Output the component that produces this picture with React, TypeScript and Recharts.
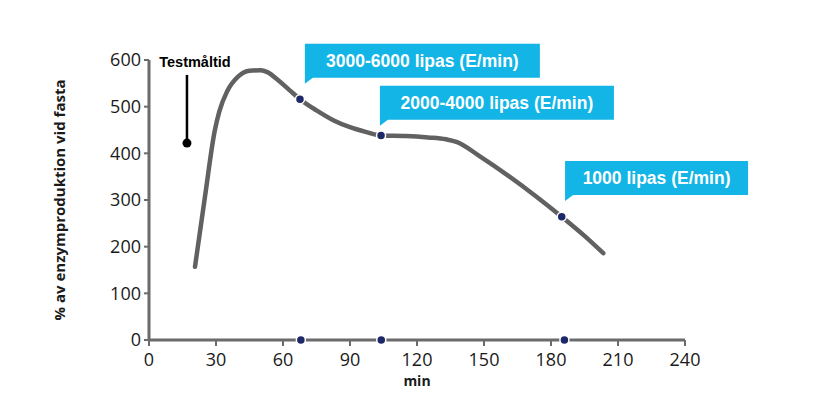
import React from 'react'
import {
  ComposedChart,
  Line,
  Scatter,
  XAxis,
  YAxis,
  ReferenceDot,
  ReferenceLine,
} from 'recharts'

// curve (minutes -> % of fasting enzyme production)
const curveT = [20.6, 25, 29.5, 31.5, 35, 40, 45, 50, 53, 58, 63, 67.6, 75, 82.5, 90, 97, 104, 115, 125, 133, 138, 148, 173.5, 184.8, 195, 203.4]
const curveV = [157, 305, 450, 490, 533, 565, 577, 578, 574, 556, 535, 516, 492, 471, 456, 446, 438, 437, 434, 430, 424, 394, 307, 264, 223, 186]

const markerT = [67.6, 103.9, 184.8]
const markerV = [516, 438, 264]
const axisMarkerT = [68, 104, 186]

const xTicks = [0, 30, 60, 90, 120, 150, 180, 210, 240]
const yTicks = [0, 100, 200, 300, 400, 500, 600]

const calloutText = ['3000-6000 lipas (E/min)', '2000-4000 lipas (E/min)', '1000 lipas (E/min)']
const calloutT = [69.8, 103.4, 186.3]
const calloutV = [549, 459, 298]
const calloutW = [235, 234, 183]

const mealT = 17
const mealLow = 422
const mealHigh = 568

const curve = curveT.map((t, i) => ({ t, v: curveV[i] }))
const markers = markerT.map((t, i) => ({ t, v: markerV[i] }))
const axisMarkers = axisMarkerT.map((t) => ({ t, v: 0 }))

const AXIS = '#6b6b6b'
const CYAN = '#12b5e5'
const NAVY = '#1c2868'

const Dot = (props: any) => (
  <circle cx={props.cx} cy={props.cy} r={4.5} fill={NAVY} stroke="#fff" strokeWidth={1.5} />
)

const callout = (text: string, w: number) => (props: any) => {
  const { cx, cy } = props
  const bottom = cy - 6
  const top = bottom - 34
  const pts = `${cx},${top} ${cx + w},${top} ${cx + w},${bottom} ${cx + 8},${bottom} ${cx},${cy}`
  return (
    <g>
      <polygon points={pts} fill={CYAN} />
      <text
        x={cx + w / 2}
        y={top + 23}
        textAnchor="middle"
        fill="#fff"
        fontFamily="'Liberation Sans', Arial, sans-serif"
        fontWeight="bold"
        fontSize={17.5}
      >
        {text}
      </text>
    </g>
  )
}

const mealLabel = (props: any) => (
  <text
    x={props.cx + 8}
    y={props.cy - 8}
    textAnchor="middle"
    fill="#000"
    fontFamily="'Liberation Sans', Arial, sans-serif"
    fontWeight="bold"
    fontSize={14.5}
  >
    Testmåltid
  </text>
)

const tickStyle = { fontFamily: "'Open Sans', sans-serif", fontSize: 18, fill: '#1a1a1a' }

export default function App() {
  return (
    <div style={{ position: 'absolute', left: 0, top: 0, width: 821, height: 397, background: '#fff' }}>
      <ComposedChart width={821} height={397} margin={{ top: 60, right: 136, left: 0, bottom: 0 }}>
        <XAxis
          type="number"
          dataKey="t"
          domain={[0, 240]}
          ticks={xTicks}
          interval={0}
          height={57}
          tick={tickStyle}
          tickSize={6}
          tickMargin={7}
          axisLine={{ stroke: AXIS, strokeWidth: 3 }}
          tickLine={{ stroke: AXIS, strokeWidth: 2 }}
          label={(p: any) => (
            <text
              x={p.viewBox.x + p.viewBox.width / 2}
              y={p.viewBox.y + 46}
              textAnchor="middle"
              fontFamily="'Open Sans', sans-serif"
              fontWeight="bold"
              fontSize={14}
              fill="#1a1a1a"
            >
              min
            </text>
          )}
        />
        <YAxis
          type="number"
          domain={[0, 600]}
          ticks={yTicks}
          interval={0}
          width={149}
          tick={tickStyle}
          tickSize={5}
          tickMargin={3}
          axisLine={{ stroke: AXIS, strokeWidth: 3 }}
          tickLine={{ stroke: AXIS, strokeWidth: 2 }}
          label={(p: any) => (
            <text
              x={65}
              y={p.viewBox.y + p.viewBox.height / 2}
              transform={`rotate(-90 65 ${p.viewBox.y + p.viewBox.height / 2})`}
              textAnchor="middle"
              fontFamily="'Open Sans', sans-serif"
              fontWeight="bold"
              fontSize={15}
              fill="#1a1a1a"
            >
              % av enzymproduktion vid fasta
            </text>
          )}
        />
        <Line
          data={curve}
          dataKey="v"
          type="monotone"
          stroke="#616161"
          strokeWidth={4.5}
          strokeLinecap="round"
          dot={false}
          activeDot={false}
          isAnimationActive={false}
        />
        <Scatter data={markers} dataKey="v" shape={Dot} isAnimationActive={false} />
        <Scatter data={axisMarkers} dataKey="v" shape={Dot} isAnimationActive={false} />
        <ReferenceLine
          segment={[{ x: mealT, y: mealLow }, { x: mealT, y: mealHigh }]}
          stroke="#000"
          strokeWidth={2.5}
          ifOverflow="visible"
        />
        <ReferenceDot x={mealT} y={mealLow} r={4.5} fill="#000" stroke="none" ifOverflow="visible" />
        <ReferenceDot x={mealT} y={mealHigh} shape={mealLabel} ifOverflow="visible" />
        {calloutText.map((txt, i) => (
          <ReferenceDot
            key={txt}
            x={calloutT[i]}
            y={calloutV[i]}
            shape={callout(txt, calloutW[i])}
            ifOverflow="visible"
          />
        ))}
      </ComposedChart>
    </div>
  )
}
